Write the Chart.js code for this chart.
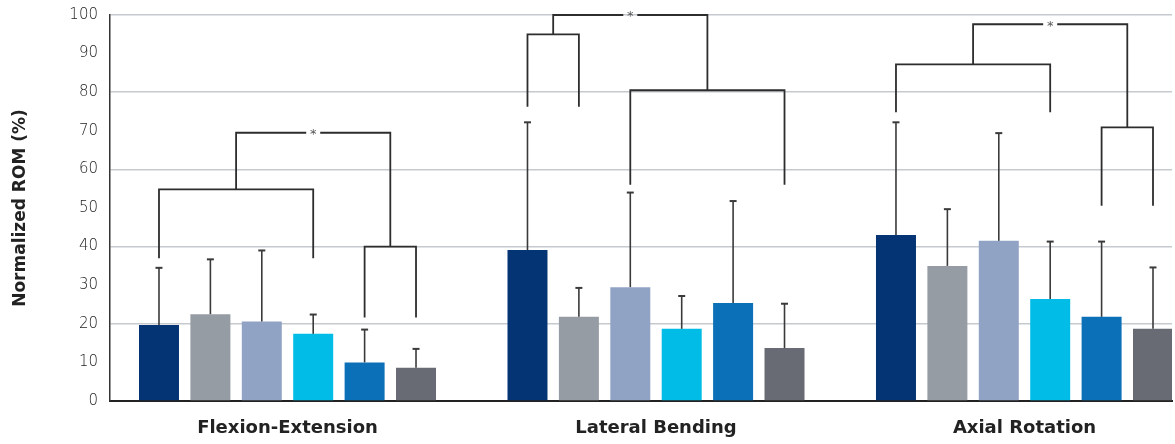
<!DOCTYPE html>
<html>
<head>
<meta charset="utf-8">
<script src="https://cdn.jsdelivr.net/npm/chart.js@4.4.1/dist/chart.umd.min.js"></script>
<style>
  html, body { margin: 0; padding: 0; background: #ffffff; }
  #wrap { width: 1175px; height: 444px; position: relative; }
</style>
</head>
<body>
<div id="wrap"><canvas id="c"></canvas></div>
<script>
// ---- Data ----
const categories = ['Flexion-Extension', 'Lateral Bending', 'Axial Rotation'];
const seriesNames = ['Group 1', 'Group 2', 'Group 3', 'Group 4', 'Group 5', 'Group 6'];
const series1 = [19.7, 39.1, 43.0];
const series2 = [22.5, 21.8, 35.0];
const series3 = [20.6, 29.5, 41.5];
const series4 = [17.4, 18.7, 26.4];
const series5 = [10.0, 25.4, 21.8];
const series6 = [8.6, 13.7, 18.7];
const sd1 = [14.8, 33.1, 29.2];
const sd2 = [14.2, 7.5, 14.7];
const sd3 = [18.4, 24.5, 27.9];
const sd4 = [5.0, 8.5, 14.9];
const sd5 = [8.5, 26.4, 19.5];
const sd6 = [4.9, 11.5, 15.9];
const yTicks = [0, 10, 20, 30, 40, 50, 60, 70, 80, 90, 100];

// significance brackets (per category): series index pairs, bracket top and leg-end values
const bracketLeftPairs = [[0, 3], [0, 1], [0, 3]];
const bracketLeftTop = [54.8, 95.0, 87.2];
const bracketLeftLegEnd = [37.0, 76.2, 74.8];
const bracketRightPairs = [[4, 5], [2, 5], [4, 5]];
const bracketRightTop = [40.0, 80.5, 70.9];
const bracketRightLegEnd = [21.6, 56.0, 50.6];
const bracketOuterTop = [69.5, 100.0, 97.6];
const bracketMark = ['*', '*', '*'];

// ---- Styles ----
const colors = ['#053474', '#959ca3', '#90a3c5', '#00bce6', '#0c70b8', '#686b73'];
const allSeries = [series1, series2, series3, series4, series5, series6];
const allSd = [sd1, sd2, sd3, sd4, sd5, sd6];

const datasets = allSeries.map((s, k) => ({
  label: seriesNames[k],
  data: s.map((v, i) => ({ x: i, y: v })),
  backgroundColor: colors[k],
  borderWidth: 0,
  barPercentage: 0.778,
  categoryPercentage: 0.837,
  sd: allSd[k]
}));

const overlayPlugin = {
  id: 'overlay',
  afterDatasetsDraw(chart) {
    const ctx = chart.ctx;
    const ys = chart.scales.y;
    ctx.save();
    // error bars
    chart.data.datasets.forEach((ds, k) => {
      const meta = chart.getDatasetMeta(k);
      meta.data.forEach((el, i) => {
        const v = ds.data[i].y;
        const top = ys.getPixelForValue(v + ds.sd[i]);
        const base = ys.getPixelForValue(v);
        ctx.strokeStyle = '#3a3a3a';
        ctx.lineWidth = 1.6;
        ctx.beginPath();
        ctx.moveTo(el.x, base);
        ctx.lineTo(el.x, top);
        ctx.stroke();
        ctx.lineWidth = 2;
        ctx.beginPath();
        ctx.moveTo(el.x - 3.5, top);
        ctx.lineTo(el.x + 3.5, top);
        ctx.stroke();
      });
    });
    // brackets
    const bx = (k, i) => chart.getDatasetMeta(k).data[i].x;
    ctx.strokeStyle = '#2d2d2d';
    ctx.lineWidth = 1.8;
    categories.forEach((c, i) => {
      const la = bx(bracketLeftPairs[i][0], i), lb = bx(bracketLeftPairs[i][1], i);
      const lt = ys.getPixelForValue(bracketLeftTop[i]);
      const ll = ys.getPixelForValue(bracketLeftLegEnd[i]);
      const ra = bx(bracketRightPairs[i][0], i), rb = bx(bracketRightPairs[i][1], i);
      const rt = ys.getPixelForValue(bracketRightTop[i]);
      const rl = ys.getPixelForValue(bracketRightLegEnd[i]);
      const ot = ys.getPixelForValue(bracketOuterTop[i]);
      const m1 = (la + lb) / 2, m2 = (ra + rb) / 2, mid = (m1 + m2) / 2;
      ctx.beginPath();
      ctx.moveTo(la, ll); ctx.lineTo(la, lt); ctx.lineTo(lb, lt); ctx.lineTo(lb, ll);
      ctx.moveTo(ra, rl); ctx.lineTo(ra, rt); ctx.lineTo(rb, rt); ctx.lineTo(rb, rl);
      ctx.moveTo(m1, lt); ctx.lineTo(m1, ot); ctx.lineTo(mid - 7, ot);
      ctx.moveTo(mid + 7, ot); ctx.lineTo(m2, ot); ctx.lineTo(m2, rt);
      ctx.stroke();
      ctx.fillStyle = '#555';
      ctx.font = '13px "DejaVu Sans"';
      ctx.textAlign = 'center';
      ctx.textBaseline = 'middle';
      ctx.fillText(bracketMark[i], mid, ot + 2);
    });
    ctx.restore();
  }
};

new Chart(document.getElementById('c'), {
  type: 'bar',
  data: { datasets },
  options: {
    responsive: true,
    maintainAspectRatio: false,
    animation: false,
    layout: { padding: { top: 15, right: 3, left: 0, bottom: 0 } },
    plugins: { legend: { display: false }, tooltip: { enabled: false } },
    scales: {
      x: {
        type: 'linear',
        min: -0.4817,
        max: 2.4003,
        offset: false,
        afterBuildTicks: (scale) => { scale.ticks = categories.map((c, i) => ({ value: i })); },
        afterFit: (scale) => { scale.height = 43; scale.paddingTop = 0; },
        grid: { display: false, drawTicks: false },
        border: { display: true, color: '#222', width: 2 },
        ticks: {
          autoSkip: false,
          maxRotation: 0,
          padding: 17,
          color: '#222',
          font: { family: '"DejaVu Sans"', size: 18, weight: 'bold' },
          callback: (v) => categories[v]
        }
      },
      y: {
        min: 0,
        max: 100,
        afterBuildTicks: (scale) => { scale.ticks = yTicks.map(v => ({ value: v })); },
        afterFit: (scale) => { scale.width = 110; scale.paddingTop = 0; },
        grid: {
          drawTicks: false,
          color: (c) => (c.tick && c.tick.value % 20 === 0 && c.tick.value !== 0) ? '#c5cacf' : 'rgba(0,0,0,0)',
          lineWidth: 1.5
        },
        border: { display: true, color: '#333', width: 1.5 },
        ticks: {
          padding: 12,
          color: '#222',
          font: { family: '"DejaVu Sans"', size: 15, weight: '200' }
        },
        title: {
          display: true,
          text: 'Normalized ROM (%)',
          color: '#222',
          padding: { top: 10, bottom: 0 },
          font: { family: '"DejaVu Sans"', size: 17, weight: 'bold' }
        }
      }
    }
  },
  plugins: [overlayPlugin]
});
</script>
</body>
</html>
